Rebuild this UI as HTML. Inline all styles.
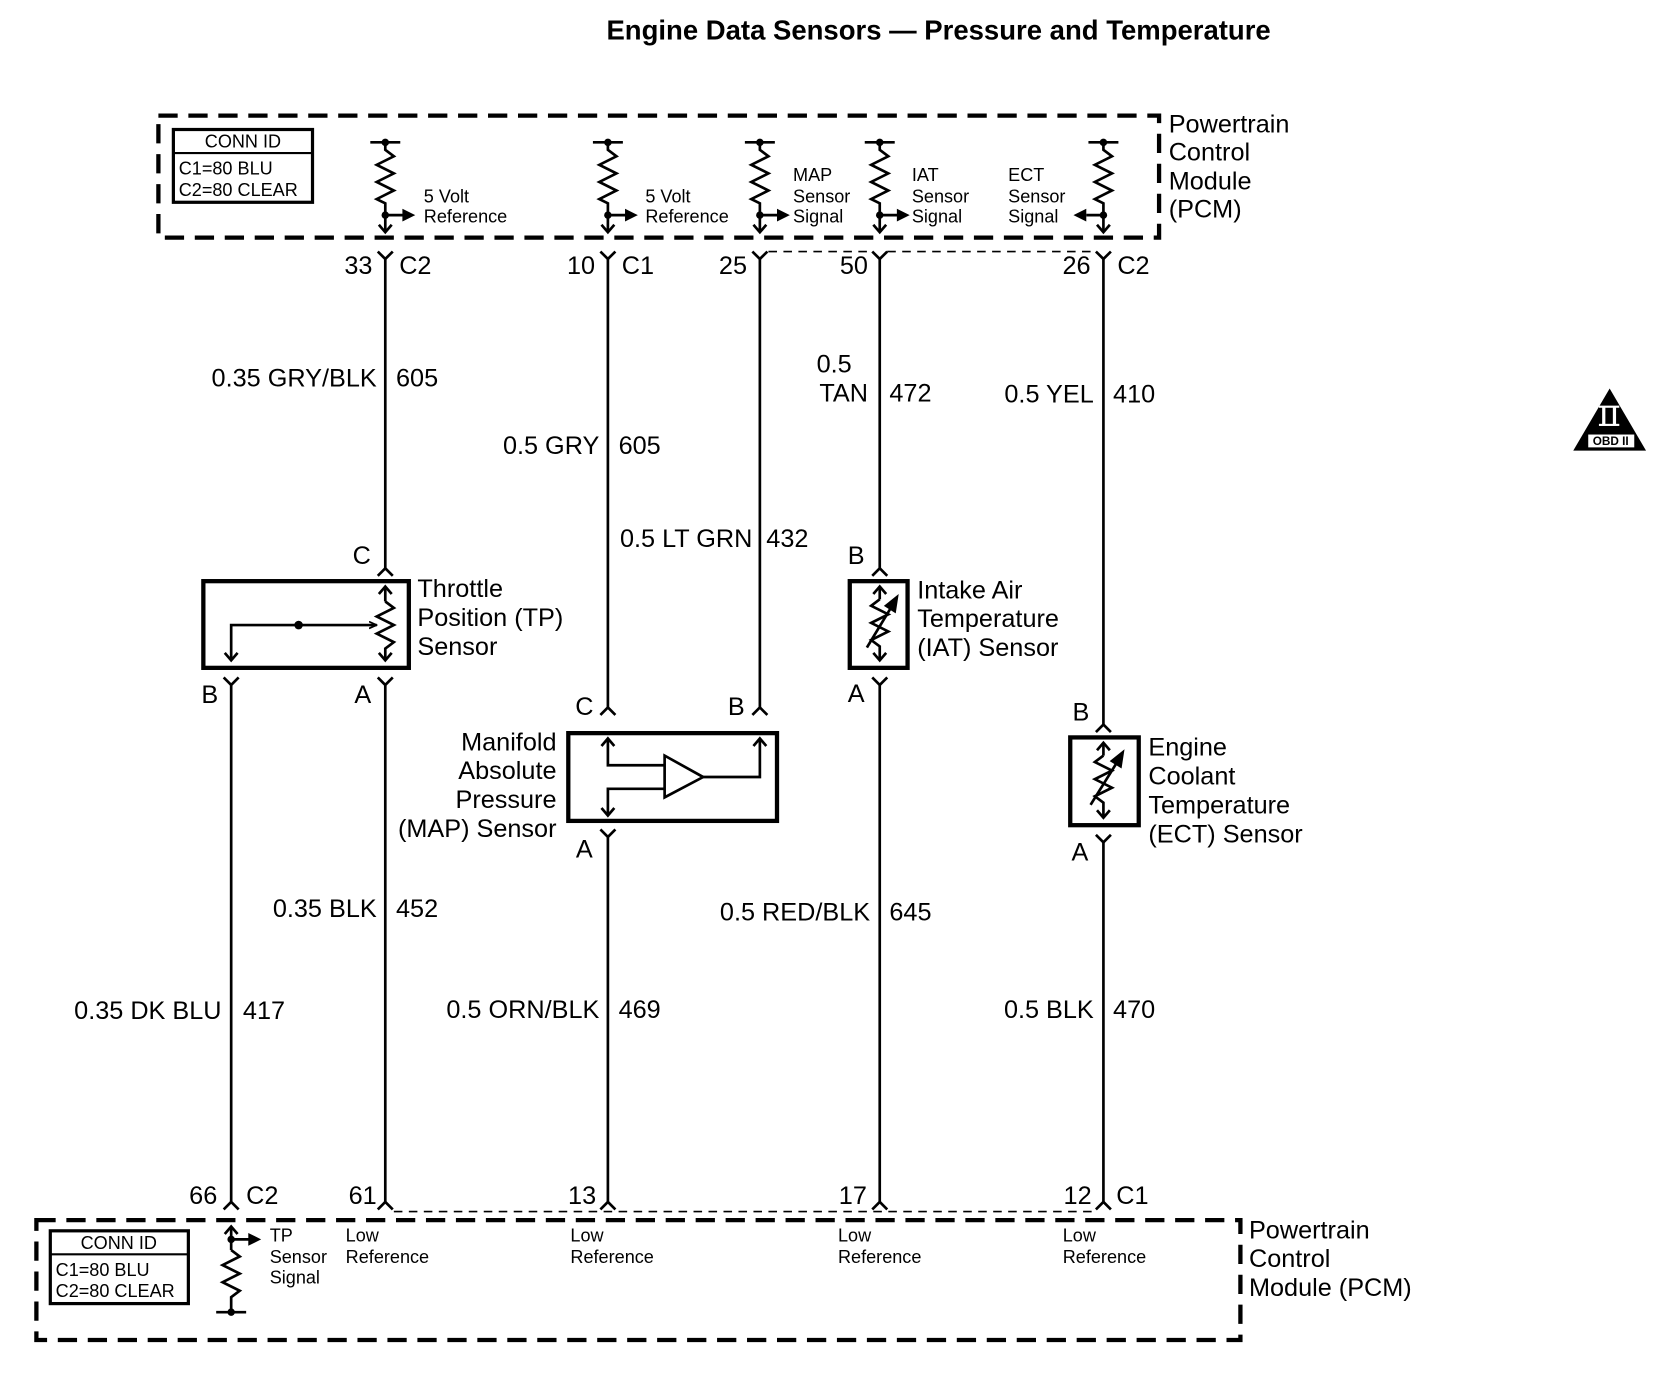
<!DOCTYPE html>
<html><head><meta charset="utf-8"><style>
html,body{margin:0;padding:0;background:#fff;}
svg{display:block;}
text{font-family:"Liberation Sans",Arial,sans-serif;fill:#000;}
.l{font-size:23.6px;}
.s{font-size:16.9px;}
.r{text-anchor:end;}
</style></head><body>
<svg width="1676" height="1392" viewBox="0 0 1566 1300.6" preserveAspectRatio="none" xmlns="http://www.w3.org/2000/svg">
<defs>
<marker id="ah" viewBox="0 0 10 10" refX="9" refY="5" markerWidth="8" markerHeight="8" orient="auto" markerUnits="userSpaceOnUse"><path d="M0,1 L9,5 L0,9" fill="none" stroke="#000" stroke-width="2"/></marker>
</defs>
<text x="877" y="37" text-anchor="middle" style="font-size:25.7px;font-weight:bold">Engine Data Sensors — Pressure and Temperature</text>

<rect x="148" y="108" width="935" height="114" fill="none" stroke="#000" stroke-width="4" stroke-dasharray="18,10"/>
<text class="l" x="1092" y="124">Powertrain</text>
<text class="l" x="1092" y="150">Control</text>
<text class="l" x="1092" y="177">Module</text>
<text class="l" x="1092" y="203">(PCM)</text>
<rect x="162" y="121" width="130" height="68" fill="none" stroke="#000" stroke-width="3"/>
<line x1="162" y1="143" x2="292" y2="143" stroke="#000" stroke-width="2"/>
<text class="s" x="227" y="138" text-anchor="middle">CONN ID</text>
<text class="s" x="167" y="163">C1=80 BLU</text>
<text class="s" x="167" y="183">C2=80 CLEAR</text>

<g stroke="#000" stroke-width="2.5" fill="none">
<line x1="346" y1="133" x2="374" y2="133"/><polyline points="360,133 360,140 368,146 352,154 368,162 352,170 368,178 352,186 360,190 360,216"/>
<line x1="554" y1="133" x2="582" y2="133"/><polyline points="568,133 568,140 576,146 560,154 576,162 560,170 576,178 560,186 568,190 568,216"/>
<line x1="696" y1="133" x2="724" y2="133"/><polyline points="710,133 710,140 718,146 702,154 718,162 702,170 718,178 702,186 710,190 710,216"/>
<line x1="808" y1="133" x2="836" y2="133"/><polyline points="822,133 822,140 830,146 814,154 830,162 814,170 830,178 814,186 822,190 822,216"/>
<line x1="1017" y1="133" x2="1045" y2="133"/><polyline points="1031,133 1031,140 1039,146 1023,154 1039,162 1023,170 1039,178 1023,186 1031,190 1031,216"/>
<polyline points="354,210 360,217 366,210"/><polyline points="562,210 568,217 574,210"/><polyline points="704,210 710,217 716,210"/><polyline points="816,210 822,217 828,210"/><polyline points="1025,210 1031,217 1037,210"/>
<line x1="360" y1="201" x2="378" y2="201"/><line x1="568" y1="201" x2="586" y2="201"/><line x1="710" y1="201" x2="728" y2="201"/><line x1="822" y1="201" x2="840" y2="201"/><line x1="1031" y1="201" x2="1015" y2="201"/>
</g>
<g fill="#000">
<circle cx="360" cy="133" r="3.5"/><circle cx="568" cy="133" r="3.5"/><circle cx="710" cy="133" r="3.5"/><circle cx="822" cy="133" r="3.5"/><circle cx="1031" cy="133" r="3.5"/>
<circle cx="360" cy="201" r="3.5"/><circle cx="568" cy="201" r="3.5"/><circle cx="710" cy="201" r="3.5"/><circle cx="822" cy="201" r="3.5"/><circle cx="1031" cy="201" r="3.5"/>
<polygon points="376,195 388,201 376,207"/><polygon points="584,195 596,201 584,207"/><polygon points="726,195 738,201 726,207"/><polygon points="838,195 850,201 838,207"/><polygon points="1015,195 1003,201 1015,207"/>
</g>
<text class="s" x="396" y="189">5 Volt</text><text class="s" x="396" y="208">Reference</text>
<text class="s" x="603" y="189">5 Volt</text><text class="s" x="603" y="208">Reference</text>
<text class="s" x="741" y="169">MAP</text><text class="s" x="741" y="189">Sensor</text><text class="s" x="741" y="208">Signal</text>
<text class="s" x="852" y="169">IAT</text><text class="s" x="852" y="189">Sensor</text><text class="s" x="852" y="208">Signal</text>
<text class="s" x="942" y="169">ECT</text><text class="s" x="942" y="189">Sensor</text><text class="s" x="942" y="208">Signal</text>

<g stroke="#000" stroke-width="2.5" fill="none">
<polyline points="353,235 360,242 367,235"/><line x1="360" y1="242" x2="360" y2="531"/>
<polyline points="561,235 568,242 575,235"/><line x1="568" y1="242" x2="568" y2="661"/>
<polyline points="703,235 710,242 717,235"/><line x1="710" y1="242" x2="710" y2="661"/>
<polyline points="815,235 822,242 829,235"/><line x1="822" y1="242" x2="822" y2="531"/>
<polyline points="1024,235 1031,242 1038,235"/><line x1="1031" y1="242" x2="1031" y2="677"/>
<line x1="718" y1="235" x2="815" y2="235" stroke-width="1.5" stroke-dasharray="8,6"/>
<line x1="829" y1="235" x2="1024" y2="235" stroke-width="1.5" stroke-dasharray="8,6"/>
</g>
<text class="l r" x="348" y="256">33</text><text class="l" x="373" y="256">C2</text>
<text class="l r" x="556" y="256">10</text><text class="l" x="581" y="256">C1</text>
<text class="l r" x="698" y="256">25</text>
<text class="l r" x="811" y="256">50</text>
<text class="l r" x="1019" y="256">26</text><text class="l" x="1044" y="256">C2</text>

<text class="l r" x="352" y="361">0.35 GRY/BLK</text><text class="l" x="370" y="361">605</text>
<text class="l r" x="560" y="424">0.5 GRY</text><text class="l" x="578" y="424">605</text>
<text class="l r" x="703" y="511">0.5 LT GRN</text><text class="l" x="716" y="511">432</text>
<text class="l" x="763" y="348">0.5</text><text class="l r" x="811" y="375">TAN</text><text class="l" x="831" y="375">472</text>
<text class="l r" x="1022" y="376">0.5 YEL</text><text class="l" x="1040" y="376">410</text>

<g stroke="#000" stroke-width="2.5" fill="none">
<polyline points="353,538 360,531 367,538"/>
<rect x="190" y="543" width="192" height="81" stroke-width="4"/>
<line x1="360" y1="548" x2="360" y2="562"/><polyline points="354,555 360,548 366,555"/>
<polyline points="360,562 368,568 352,576 368,584 352,592 368,600 360,606 360,617"/><polyline points="354,610 360,617 366,610"/>
<polyline points="216,617 216,584 352,584" marker-end="url(#ah)"/><polyline points="210,610 216,617 222,610"/>
<polyline points="209,633 216,640 223,633"/><line x1="216" y1="640" x2="216" y2="1123"/>
<polyline points="353,633 360,640 367,633"/><line x1="360" y1="640" x2="360" y2="1123"/>
</g>
<circle cx="279" cy="584" r="4" fill="#000"/>
<text class="l" x="338" y="527" text-anchor="middle">C</text>
<text class="l" x="390" y="558">Throttle</text><text class="l" x="390" y="585">Position (TP)</text><text class="l" x="390" y="612">Sensor</text>
<text class="l" x="196" y="657" text-anchor="middle">B</text><text class="l" x="339" y="657" text-anchor="middle">A</text>

<g stroke="#000" stroke-width="2.5" fill="none">
<polyline points="561,668 568,661 575,668"/><polyline points="703,668 710,661 717,668"/>
<rect x="531" y="685" width="195" height="82" stroke-width="4"/>
<polyline points="568,690 568,715 621,715"/><polyline points="562,697 568,690 574,697"/>
<polygon points="621,706 621,745 657,726"/>
<polyline points="657,726 710,726 710,690"/><polyline points="704,697 710,690 716,697"/>
<polyline points="621,737 568,737 568,762"/><polyline points="562,755 568,762 574,755"/>
<polyline points="561,775 568,782 575,775"/><line x1="568" y1="782" x2="568" y2="1123"/>
</g>
<text class="l" x="546" y="668" text-anchor="middle">C</text><text class="l" x="688" y="668" text-anchor="middle">B</text>
<text class="l r" x="520" y="701">Manifold</text><text class="l r" x="520" y="728">Absolute</text><text class="l r" x="520" y="755">Pressure</text><text class="l r" x="520" y="782">(MAP) Sensor</text>
<text class="l" x="546" y="801" text-anchor="middle">A</text>

<g stroke="#000" stroke-width="2.5" fill="none">
<polyline points="815,538 822,531 829,538"/>
<rect x="794" y="543" width="54" height="81" stroke-width="4"/>
<line x1="822" y1="548" x2="822" y2="560"/><polyline points="816,555 822,548 828,555"/>
<polyline points="822,560 814,566 830,574 814,582 830,590 814,598 822,604 822,617"/><polyline points="816,610 822,617 828,610"/>
<line x1="810" y1="605" x2="836" y2="562"/><polygon points="838,558 828,566 836,571" fill="#000"/>
<polyline points="815,633 822,640 829,633"/><line x1="822" y1="640" x2="822" y2="1123"/>
</g>
<text class="l" x="800" y="527" text-anchor="middle">B</text>
<text class="l" x="857" y="559">Intake Air</text><text class="l" x="857" y="586">Temperature</text><text class="l" x="857" y="613">(IAT) Sensor</text>
<text class="l" x="800" y="656" text-anchor="middle">A</text>

<g stroke="#000" stroke-width="2.5" fill="none">
<polyline points="1024,684 1031,677 1038,684"/>
<rect x="1000" y="689" width="64" height="82" stroke-width="4"/>
<line x1="1031" y1="694" x2="1031" y2="706"/><polyline points="1025,701 1031,694 1037,701"/>
<polyline points="1031,706 1023,712 1039,720 1023,728 1039,736 1023,744 1031,750 1031,764"/><polyline points="1025,757 1031,764 1037,757"/>
<line x1="1019" y1="752" x2="1047" y2="707"/><polygon points="1049,703 1039,711 1047,716" fill="#000"/>
<polyline points="1024,780 1031,787 1038,780"/><line x1="1031" y1="787" x2="1031" y2="1123"/>
</g>
<text class="l" x="1010" y="673" text-anchor="middle">B</text>
<text class="l" x="1073" y="706">Engine</text><text class="l" x="1073" y="733">Coolant</text><text class="l" x="1073" y="760">Temperature</text><text class="l" x="1073" y="787">(ECT) Sensor</text>
<text class="l" x="1009" y="804" text-anchor="middle">A</text>

<text class="l r" x="352" y="857">0.35 BLK</text><text class="l" x="370" y="857">452</text>
<text class="l r" x="207" y="952">0.35 DK BLU</text><text class="l" x="227" y="952">417</text>
<text class="l r" x="560" y="951">0.5 ORN/BLK</text><text class="l" x="578" y="951">469</text>
<text class="l r" x="813" y="860">0.5 RED/BLK</text><text class="l" x="831" y="860">645</text>
<text class="l r" x="1022" y="951">0.5 BLK</text><text class="l" x="1040" y="951">470</text>

<g stroke="#000" stroke-width="2.5" fill="none">
<polyline points="209,1130 216,1123 223,1130"/><polyline points="353,1130 360,1123 367,1130"/><polyline points="561,1130 568,1123 575,1130"/><polyline points="815,1130 822,1123 829,1130"/><polyline points="1024,1130 1031,1123 1038,1130"/>
<line x1="368" y1="1132" x2="1024" y2="1132" stroke-width="1.5" stroke-dasharray="8,6"/>
<rect x="34" y="1140" width="1125" height="112" stroke-width="4" stroke-dasharray="18,10"/>
<rect x="47" y="1150" width="129" height="68" stroke-width="3"/>
<line x1="47" y1="1172" x2="176" y2="1172" stroke-width="2"/>
<line x1="216" y1="1146" x2="216" y2="1168"/><polyline points="210,1153 216,1146 222,1153"/>
<line x1="216" y1="1158" x2="234" y2="1158"/>
<polyline points="216,1168 224,1174 208,1182 224,1190 208,1198 224,1206 216,1212 216,1226"/>
<line x1="202" y1="1226" x2="230" y2="1226"/>
</g>
<g fill="#000"><circle cx="216" cy="1158" r="3.5"/><circle cx="216" cy="1226" r="3.5"/><polygon points="232,1152 244,1158 232,1164"/></g>
<text class="l r" x="203" y="1125">66</text><text class="l" x="230" y="1125">C2</text>
<text class="l r" x="352" y="1125">61</text>
<text class="l r" x="557" y="1125">13</text>
<text class="l r" x="810" y="1125">17</text>
<text class="l r" x="1020" y="1125">12</text><text class="l" x="1043" y="1125">C1</text>
<text class="s" x="111" y="1167" text-anchor="middle">CONN ID</text>
<text class="s" x="52" y="1192">C1=80 BLU</text>
<text class="s" x="52" y="1212">C2=80 CLEAR</text>
<text class="s" x="252" y="1160">TP</text><text class="s" x="252" y="1180">Sensor</text><text class="s" x="252" y="1199">Signal</text>
<text class="s" x="323" y="1160">Low</text><text class="s" x="323" y="1180">Reference</text>
<text class="s" x="533" y="1160">Low</text><text class="s" x="533" y="1180">Reference</text>
<text class="s" x="783" y="1160">Low</text><text class="s" x="783" y="1180">Reference</text>
<text class="s" x="993" y="1160">Low</text><text class="s" x="993" y="1180">Reference</text>
<text class="l" x="1167" y="1157">Powertrain</text><text class="l" x="1167" y="1184">Control</text><text class="l" x="1167" y="1211">Module (PCM)</text>

<polygon points="1470,421 1504,363 1538,421" fill="#000"/>
<rect x="1497" y="380" width="3" height="17" fill="#fff"/><rect x="1507" y="380" width="3" height="17" fill="#fff"/>
<rect x="1494" y="379" width="19" height="2" fill="#fff"/><rect x="1494" y="396" width="19" height="2" fill="#fff"/>
<rect x="1484" y="406" width="43" height="12" fill="#fff"/>
<text x="1505" y="416" text-anchor="middle" style="font-size:11px;font-weight:bold">OBD II</text>
</svg>
</body></html>
